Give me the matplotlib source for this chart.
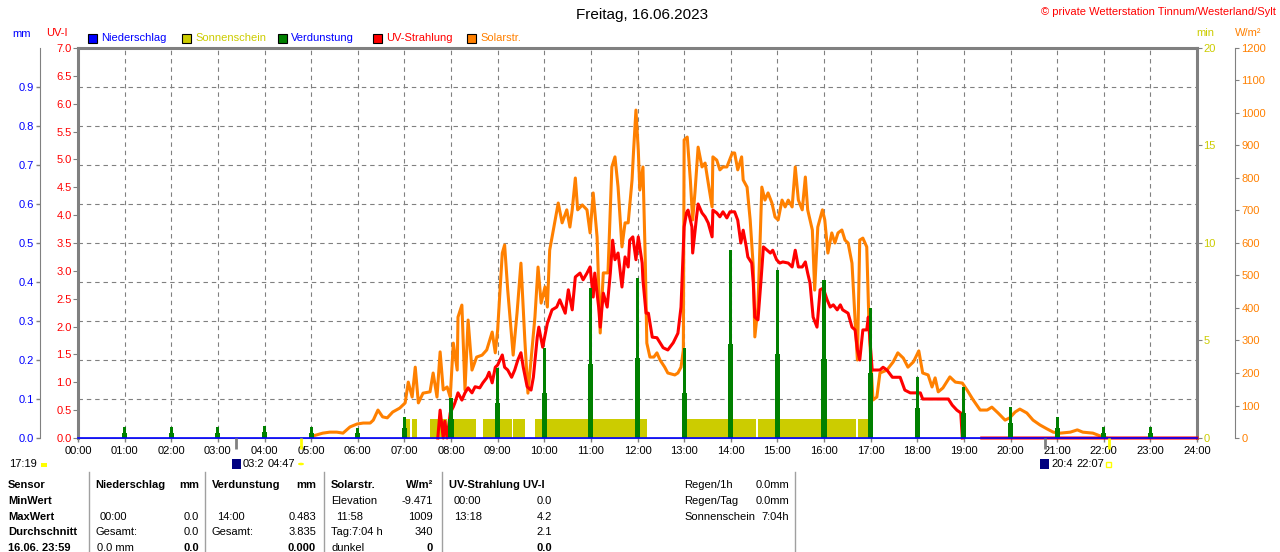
import numpy as np
import matplotlib.pyplot as plt
from matplotlib.patches import Rectangle, Circle

plt.rcParams['font.family'] = ['Liberation Sans', 'DejaVu Sans']
plt.rcParams['font.size'] = 8

# Solarstrahlung (W/m²)
solar_time = ["05:02", "05:15", "05:24", "05:33", "05:41", "05:50", "05:59", "06:07", "06:16", "06:20",
              "06:26", "06:32", "06:38", "06:45", "06:54", "07:01", "07:05", "07:10", "07:14", "07:18",
              "07:24", "07:33", "07:37", "07:42", "07:46", "07:50", "07:55", "07:59", "08:03", "08:08",
              "08:09", "08:14", "08:18", "08:22", "08:27", "08:33", "08:40", "08:46", "08:53", "08:57",
              "09:00", "09:06", "09:09", "09:13", "09:20", "09:25", "09:30", "09:35", "09:39", "09:43",
              "09:48", "09:52", "09:56", "10:01", "10:04", "10:07", "10:11", "10:18", "10:23", "10:29",
              "10:33", "10:36", "10:40", "10:43", "10:49", "10:55", "10:59", "11:03", "11:08", "11:12",
              "11:16", "11:22", "11:27", "11:31", "11:35", "11:40", "11:44", "11:48", "11:53", "11:55",
              "11:58", "12:01", "12:03", "12:07", "12:10", "12:12", "12:16", "12:21", "12:25", "12:29",
              "12:35", "12:39", "12:48", "12:52", "12:56", "12:59", "13:00", "13:04", "13:08", "13:11",
              "13:14", "13:18", "13:23", "13:27", "13:31", "13:36", "13:37", "13:42", "13:46", "13:50",
              "13:55", "14:02", "14:05", "14:09", "14:14", "14:16", "14:21", "14:25", "14:29", "14:31",
              "14:35", "14:40", "14:44", "14:48", "14:53", "14:57", "15:01", "15:06", "15:10", "15:14",
              "15:19", "15:23", "15:27", "15:32", "15:36", "15:39", "15:45", "15:48", "15:52", "15:58",
              "16:01", "16:05", "16:10", "16:14", "16:18", "16:23", "16:27", "16:31", "16:36", "16:40",
              "16:43", "16:46", "16:50", "16:55", "16:58", "17:03", "17:08", "17:12", "17:21", "17:29",
              "17:35", "17:42", "17:48", "17:55", "18:02", "18:07", "18:14", "18:19", "18:23", "18:27",
              "18:33", "18:42", "18:49", "18:58", "19:04", "19:12", "19:21", "19:30", "19:36", "19:44",
              "19:53", "19:59", "20:06", "20:12", "20:21", "20:29", "20:38", "20:47", "20:55", "21:04",
              "21:17", "21:26", "21:33", "21:46", "21:59", "22:03"]
solar_wm2 = [6, 15, 18, 18, 15, 34, 43, 46, 46, 55,
             86, 65, 62, 80, 92, 108, 172, 126, 218, 108,
             138, 142, 200, 126, 265, 148, 157, 126, 292, 209,
             372, 409, 148, 363, 209, 249, 255, 271, 326, 262,
             332, 569, 594, 455, 255, 385, 538, 302, 138, 240,
             372, 526, 415, 465, 403, 578, 631, 723, 662, 702,
             649, 702, 800, 702, 717, 702, 631, 754, 618, 323,
             508, 508, 834, 865, 772, 588, 662, 662, 794, 886,
             1009, 886, 763, 834, 548, 292, 249, 249, 262, 240,
             218, 200, 194, 200, 218, 271, 917, 926, 794, 671,
             757, 895, 834, 846, 785, 711, 865, 855, 825, 834,
             834, 877, 877, 825, 865, 794, 772, 671, 526, 311,
             403, 772, 732, 754, 723, 680, 671, 732, 711, 732,
             711, 834, 732, 702, 803, 702, 640, 455, 649, 702,
             671, 569, 631, 600, 631, 640, 609, 600, 538, 363,
             240, 609, 615, 588, 342, 117, 126, 200, 209, 234,
             262, 246, 218, 234, 268, 200, 194, 157, 185, 142,
             154, 188, 172, 169, 148, 117, 86, 86, 95, 77,
             55, 62, 80, 89, 77, 55, 40, 28, 18, 15,
             18, 25, 18, 15, 3, 0]

# UV-Strahlung (UV-Index)
uv_time = ["07:43", "07:46", "07:50", "07:52", "07:55", "07:59", "08:03", "08:05", "08:09", "08:14",
           "08:18", "08:22", "08:27", "08:31", "08:37", "08:41", "08:46", "08:49", "08:53", "08:57",
           "09:00", "09:06", "09:09", "09:13", "09:18", "09:22", "09:26", "09:30", "09:33", "09:38",
           "09:43", "09:46", "09:51", "09:53", "09:58", "10:04", "10:10", "10:16", "10:20", "10:27",
           "10:31", "10:36", "10:40", "10:46", "10:50", "10:55", "10:59", "11:03", "11:05", "11:10",
           "11:12", "11:16", "11:21", "11:25", "11:28", "11:31", "11:35", "11:40", "11:44", "11:48",
           "11:50", "11:54", "11:58", "12:01", "12:06", "12:07", "12:11", "12:14", "12:19", "12:25",
           "12:33", "12:39", "12:46", "12:52", "12:56", "13:00", "13:03", "13:05", "13:10", "13:11",
           "13:16", "13:18", "13:23", "13:27", "13:31", "13:36", "13:37", "13:42", "13:46", "13:50",
           "13:55", "13:59", "14:05", "14:09", "14:13", "14:16", "14:20", "14:22", "14:27", "14:29",
           "14:31", "14:35", "14:39", "14:42", "14:47", "14:51", "14:54", "14:59", "15:03", "15:07",
           "15:14", "15:19", "15:23", "15:27", "15:32", "15:36", "15:39", "15:42", "15:46", "15:51",
           "15:55", "15:59", "16:04", "16:08", "16:12", "16:17", "16:21", "16:24", "16:31", "16:36",
           "16:40", "16:43", "16:46", "16:50", "16:55", "16:57", "17:02", "17:12", "17:16", "17:21",
           "17:28", "17:38", "17:44", "17:51", "18:04", "18:07", "18:40", "18:45", "18:51", "18:56",
           "18:58", "19:10", "19:23", "24:00"]
uv_index = [0.0, 0.5, 0.0, 0.3, 0.0, 0.45, 0.56, 0.63, 0.81, 0.68,
            0.81, 0.90, 0.81, 0.92, 0.90, 0.99, 1.08, 1.18, 0.99, 1.27,
            1.31, 1.49, 1.27, 1.22, 1.09, 1.22, 1.40, 1.53, 1.27, 0.92,
            0.86, 1.09, 1.81, 1.99, 1.63, 2.06, 2.30, 2.35, 2.48, 2.24,
            2.66, 2.30, 2.89, 2.96, 2.84, 2.96, 3.07, 2.53, 2.96, 2.35,
            1.99, 2.60, 2.35, 2.96, 3.55, 3.20, 3.32, 2.71, 3.25, 3.07,
            3.55, 3.61, 3.20, 3.61, 3.14, 2.84, 2.24, 2.24, 1.81, 1.80,
            1.62, 1.58, 1.71, 1.88, 2.35, 3.79, 4.04, 4.09, 3.79, 3.32,
            3.97, 4.2, 4.04, 3.97, 3.86, 3.61, 4.09, 4.04, 3.97, 4.06,
            3.95, 4.06, 4.06, 3.91, 3.50, 3.73, 3.43, 3.25, 3.14, 2.78,
            2.17, 2.12, 2.84, 3.43, 3.37, 3.32, 3.37, 3.20, 3.14, 3.16,
            3.14, 3.07, 3.37, 3.07, 3.07, 3.16, 2.96, 2.78, 2.17, 1.99,
            2.66, 2.69, 2.48, 2.35, 2.39, 2.30, 2.39, 2.30, 2.24, 1.99,
            1.94, 1.58, 1.40, 1.94, 1.94, 2.17, 1.22, 1.22, 1.27, 1.22,
            1.09, 1.09, 0.86, 0.81, 0.81, 0.70, 0.70, 0.59, 0.50, 0.45,
            0.0, np.nan, 0.0, 0.0]

# Verdunstung (mm) je Stunde
evap_hour = list(range(1, 24))
evap_mm = [0.028, 0.028, 0.028, 0.030, 0.028, 0.026, 0.054, 0.103, 0.180, 0.231, 0.385, 0.410,
           0.231, 0.483, 0.431, 0.405, 0.333, 0.156, 0.131, 0.079, 0.054, 0.028, 0.028]
evap_low = [0.013, 0.013, 0.013, 0.015, 0.014, 0.013, 0.026, 0.050, 0.090, 0.115, 0.190, 0.205,
            0.115, 0.241, 0.215, 0.203, 0.167, 0.077, 0.064, 0.038, 0.026, 0.013, 0.013]

# Niederschlag (mm)
rain_hour = list(range(0, 25))
rain_mm = [0.0] * 25

# Sonnenschein (min pro min)
sun_start = ["07:01", "07:10", "07:33", "08:01", "08:41", "09:20", "09:48", "13:01", "14:35", "16:44"]
sun_end = ["07:07", "07:16", "07:55", "08:32", "09:18", "09:35", "12:12", "14:32", "16:41", "16:58"]

# Mond / Sonne
moon_times = ["03:23", "20:44"]
sun_times = ["04:47", "22:07"]

hour_labels = ["%02d:00" % h for h in range(25)]

# Tabelle unten
table_rows = [
    ["Sensor", "Niederschlag", "mm", "Verdunstung", "mm", "Solarstr.", "W/m²", "UV-Strahlung UV-I", ""],
    ["MinWert", "", "", "", "", "Elevation", "-9.471", "00:00", "0.0"],
    ["MaxWert", "00:00", "0.0", "14:00", "0.483", "11:58", "1009", "13:18", "4.2"],
    ["Durchschnitt", "Gesamt:", "0.0", "Gesamt:", "3.835", "Tag:7:04 h", "340", "", "2.1"],
    ["16.06. 23:59", "0.0 mm", "0.0", "", "0.000", "dunkel", "0", "", "0.0"],
]
extra_rows = [["Regen/1h", "0.0mm"], ["Regen/Tag", "0.0mm"], ["Sonnenschein", "7:04h"]]

GRAU = '#808080'
GELB = '#cccc00'
ORANGE = '#ff8000'
GRUEN = '#008000'
BLAU = '#0000ff'
ROT = '#ff0000'


def hrs(t):
    h, m = t.split(':')
    return int(h) + int(m) / 60.0


def fx(x):
    return x / 1280.0


def fy(y):
    return 1 - y / 552.0


fig = plt.figure(figsize=(12.8, 5.52), dpi=100)
ax = fig.add_axes([fx(78), fy(438), 1119 / 1280, 390 / 552])
ax.set_xlim(0, 24)
ax.set_ylim(0, 1.0)
ax.set_xticks(range(25))
ax.set_xticklabels(hour_labels)
ax.set_yticks(np.arange(0, 1.0, 0.1))
ax.set_yticklabels(["%.1f" % v for v in np.arange(0, 1.0, 0.1)])
ax.tick_params(axis='x', length=3, width=1, color=GRAU, labelcolor='black', labelsize=8, pad=3)
ax.tick_params(axis='y', length=3, width=1, color=GRAU, labelcolor=BLAU, labelsize=8, pad=1.5)
ax.grid(True, color=GRAU, linestyle=(0, (4, 3.5)), linewidth=0.8)
ax.spines['left'].set_position(('axes', (40 - 78) / 1119))
ax.spines['left'].set_color(GRAU)
ax.spines['right'].set_visible(False)
ax.spines['top'].set_color(GRAU)
ax.spines['top'].set_linewidth(2.2)
ax.spines['bottom'].set_color(GRAU)

# Sonnenschein
ax_min = ax.twinx()
ax_min.set_ylim(0, 20)
ax_min.set_yticks([0, 5, 10, 15, 20])
s0 = [hrs(t) for t in sun_start]
s1 = [hrs(t) for t in sun_end]
ax_min.bar(s0, [1] * len(s0), width=[b - a for a, b in zip(s0, s1)], align='edge',
           color=GELB, linewidth=0)
for sp in ['left', 'top', 'bottom']:
    ax_min.spines[sp].set_visible(False)
ax_min.spines['right'].set_color(GRAU)
ax_min.spines['right'].set_linewidth(2.2)
ax_min.tick_params(axis='y', length=3.5, color=GRAU, labelcolor=GELB, labelsize=8, pad=1)

# Solarstrahlung
ax_sol = ax.twinx()
ax_sol.set_ylim(0, 1200)
ax_sol.set_yticks(range(0, 1201, 100))
ax_sol.plot([hrs(t) for t in solar_time], solar_wm2, color=ORANGE, lw=2.2)
for sp in ['left', 'top', 'bottom']:
    ax_sol.spines[sp].set_visible(False)
ax_sol.spines['right'].set_position(('axes', (1235 - 78) / 1119))
ax_sol.spines['right'].set_color(GRAU)
ax_sol.tick_params(axis='y', length=3, color=GRAU, labelcolor=ORANGE, labelsize=8, pad=1.5)

# UV
ax_uv = ax.twinx()
ax_uv.set_ylim(0, 7)
ax_uv.yaxis.tick_left()
ax_uv.set_yticks(np.arange(0, 7.01, 0.5))
ax_uv.set_yticklabels(["%.1f" % v for v in np.arange(0, 7.01, 0.5)])
ax_uv.plot([hrs(t) for t in uv_time], uv_index, color=ROT, lw=2.2, clip_on=False)
for sp in ['right', 'top', 'bottom']:
    ax_uv.spines[sp].set_visible(False)
ax_uv.spines['left'].set_color(GRAU)
ax_uv.spines['left'].set_linewidth(2.2)
ax_uv.tick_params(axis='y', length=3.5, color=GRAU, labelcolor=ROT, labelsize=8, pad=1)

# Verdunstung + Niederschlag
ax_ev = ax.twinx()
ax_ev.set_ylim(0, 1.0)
ax_ev.bar(evap_hour, evap_low, width=0.11, color=GRUEN, linewidth=0)
ax_ev.bar(evap_hour, evap_mm, width=0.065, color=GRUEN, linewidth=0)
ax_ev.plot(rain_hour, rain_mm, color=BLAU, lw=1.2, clip_on=False)
ax_ev.set_yticks([])
for sp in ax_ev.spines.values():
    sp.set_visible(False)

ax_min.set_zorder(1)
ax_sol.set_zorder(2)
ax_uv.set_zorder(3)
ax_ev.set_zorder(4)

# Mond-/Sonnenmarken unter der Achse
ax_ev.vlines([hrs(t) for t in moon_times], -0.027, 0, colors=GRAU, lw=2, clip_on=False)
ax_ev.vlines([hrs(t) for t in sun_times], -0.027, 0, colors='#ffff00', lw=2, clip_on=False)

# Kopfzeile
fig.text(fx(642), fy(15), "Freitag, 16.06.2023", fontsize=11, ha='center', va='center')
fig.text(fx(1276), fy(12), "© private Wetterstation Tinnum/Westerland/Sylt", color=ROT,
         fontsize=8, ha='right', va='center')
fig.text(fx(22), fy(34), "mm", color=BLAU, ha='center', va='center')
fig.text(fx(57), fy(33), "UV-I", color=ROT, ha='center', va='center')
fig.text(fx(1205), fy(33), "min", color=GELB, ha='center', va='center')
fig.text(fx(1248), fy(33), "W/m²", color=ORANGE, ha='center', va='center')

legend = [(88, BLAU, "Niederschlag", BLAU), (182, GELB, "Sonnenschein", GELB),
          (278, GRUEN, "Verdunstung", BLAU), (373, ROT, "UV-Strahlung", ROT),
          (467, ORANGE, "Solarstr.", ORANGE)]
for x0, fc, txt, tc in legend:
    fig.add_artist(Rectangle((fx(x0), fy(43)), 9 / 1280, 9 / 552, facecolor=fc,
                             edgecolor='black', lw=0.8, transform=fig.transFigure))
    fig.text(fx(x0 + 13), fy(38), txt, color=tc, ha='left', va='center')

# Zeile unter der x-Achse
fig.text(fx(9), fy(464), "17:19", ha='left', va='center')
fig.add_artist(Rectangle((fx(41), fy(467)), 6 / 1280, 4 / 552, facecolor='#ffff00',
                         lw=0, transform=fig.transFigure))
fig.add_artist(Rectangle((fx(232), fy(469)), 9 / 1280, 10 / 552, facecolor='#000080',
                         lw=0, transform=fig.transFigure))
fig.text(fx(243), fy(464), "03:2", ha='left', va='center')
fig.text(fx(268), fy(464), "04:47", ha='left', va='center')
fig.add_artist(Circle((fx(301), fy(464)), 3 / 1280, facecolor='#ffff00', lw=0,
                      transform=fig.transFigure))
fig.add_artist(Rectangle((fx(1040), fy(469)), 9 / 1280, 10 / 552, facecolor='#000080',
                         lw=0, transform=fig.transFigure))
fig.text(fx(1051), fy(464), "20:4", ha='left', va='center')
fig.text(fx(1076), fy(464), "22:07", ha='left', va='center')
fig.add_artist(Rectangle((fx(1106), fy(467)), 5 / 1280, 5 / 552, facecolor='none',
                         edgecolor='#ffff00', lw=1, transform=fig.transFigure))

# Tabelle
for xs in [89, 205, 324, 442, 795]:
    fig.add_artist(plt.Line2D([fx(xs), fx(xs)], [fy(472), fy(552)], color='#a0a0a0', lw=1))

row_y = [485, 501, 517, 532, 548]
col_x = [(8, 'left'), (95, 'left'), (199, 'right'), (212, 'left'), (316, 'right'),
         (331, 'left'), (433, 'right'), (449, 'left'), (552, 'right')]
for r, row in enumerate(table_rows):
    for c, txt in enumerate(row):
        if not txt:
            continue
        x0, ha = col_x[c]
        if r in (1, 2) and c in (1, 3, 5, 7) and txt[0].isdigit():
            x0 += 5
        if r == 4 and c == 1:
            x0 += 2
        bold = r == 0 or c == 0 or (r == 4 and ha == 'right')
        fig.text(fx(x0), fy(row_y[r]), txt, ha=ha, va='center',
                 fontweight='bold' if bold else 'normal')

for r, (lab, val) in enumerate(extra_rows):
    fig.text(fx(684), fy(row_y[r]), lab, ha='left', va='center')
    fig.text(fx(789), fy(row_y[r]), val, ha='right', va='center')

fig.savefig('out.png', dpi=100)
